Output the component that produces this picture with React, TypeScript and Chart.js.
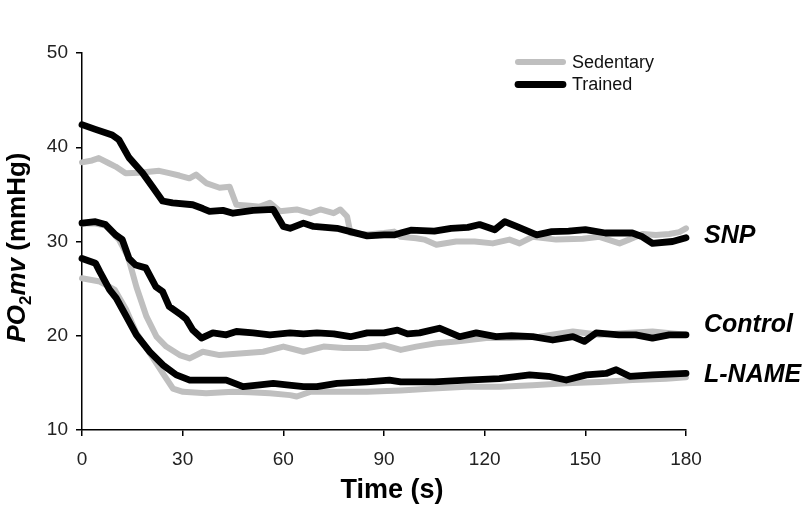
import React, { useEffect, useRef } from "react";
import { Chart, registerables } from "chart.js";
Chart.register(...registerables);

type Pt = [number, number];

const xTicks = [0, 30, 60, 90, 120, 150, 180];
const yTicks = [10, 20, 30, 40, 50];
const legendLabels = ["Sedentary", "Trained"];
const conditionLabels = ["SNP", "Control", "L-NAME"];

const snpTrained: Pt[] = [[0,42.4],[4,41.9],[9,41.3],[11,40.8],[14,38.9],[18,37.3],[21,35.8],[24,34.3],[27,34.1],[33,33.9],[36,33.5],[38,33.2],[42,33.3],[45,33.0],[51,33.3],[57,33.4],[60,31.6],[62,31.4],[66,31.95],[69,31.6],[76,31.4],[80,31.05],[85,30.6],[90,30.7],[93,30.7],[95,30.9],[98,31.2],[105,31.1],[110,31.4],[115,31.5],[118.5,31.8],[123,31.25],[126,32.1],[129.5,31.6],[135.5,30.7],[140,31.05],[145,31.1],[150,31.25],[156,30.9],[164,30.9],[167,30.5],[170,29.8],[176,30.0],[180,30.4]];
const snpSedentary: Pt[] = [[0,38.4],[3,38.6],[5,38.85],[8,38.3],[10,37.95],[13,37.25],[17,37.3],[20,37.4],[23,37.5],[26,37.25],[29,37.0],[32,36.7],[34,37.1],[37,36.2],[41,35.7],[44,35.8],[46,33.9],[50,33.8],[53,33.7],[56,34.1],[59,33.2],[64,33.4],[68,33.0],[71,33.4],[75,33.0],[77,33.4],[79,32.65],[80,30.9],[85,30.75],[90,30.9],[93,31.05],[95,30.5],[99.6,30.35],[102,30.2],[105.6,29.65],[111.5,30.0],[117,30.0],[122.4,29.8],[127.4,30.2],[130.4,29.8],[134.3,30.5],[141.3,30.2],[149.2,30.3],[154.2,30.5],[160.2,29.8],[163,30.2],[167,30.8],[171,30.7],[175,30.8],[178,31.0],[180,31.4]];
const controlTrained: Pt[] = [[0,31.95],[4,32.1],[7,31.8],[10,30.7],[12,30.2],[14,28.2],[16,27.5],[19,27.2],[22,25.2],[24,24.7],[26,23.1],[29.6,22.2],[31,21.8],[33,20.6],[35.6,19.75],[39,20.3],[43,20.1],[46,20.45],[51,20.3],[56,20.1],[62,20.3],[66,20.2],[70,20.3],[75,20.2],[80,19.9],[85,20.3],[90,20.3],[94,20.6],[97,20.2],[100.6,20.3],[106.5,20.8],[112.5,19.9],[117.5,20.3],[123.4,19.9],[128,20.0],[134.3,19.9],[140.3,19.55],[146.3,19.9],[149.7,19.4],[153.2,20.3],[160,20.1],[165,20.1],[170,19.75],[175,20.1],[180,20.1]];
const controlSedentary: Pt[] = [[0,31.9],[4,31.9],[7,31.7],[11,30.2],[13.7,28.4],[16.2,25.2],[19.2,22.05],[22.2,19.9],[25.1,18.85],[29.1,17.95],[32.1,17.6],[36,18.3],[41,17.95],[48,18.15],[54,18.3],[60,18.85],[66,18.3],[72,18.85],[78,18.7],[85,18.7],[90,19.0],[95,18.5],[99.6,18.85],[105.6,19.2],[111.5,19.4],[120.5,19.75],[127.4,19.75],[136.3,19.9],[146.3,20.45],[154.2,20.1],[162,20.3],[170,20.45],[180,20.1]];
const lnameTrained: Pt[] = [[0,28.2],[4,27.7],[5.3,26.8],[8.2,24.9],[10.2,24.0],[13.2,22.05],[16.2,20.1],[20.2,18.3],[24.1,16.9],[28.1,15.85],[32.1,15.3],[39,15.3],[43,15.3],[48,14.6],[53,14.8],[57,14.95],[61,14.8],[66,14.6],[70,14.6],[76,14.95],[85,15.1],[91.6,15.3],[95,15.1],[105,15.1],[114.5,15.3],[124.4,15.45],[133.4,15.85],[139,15.7],[144.3,15.3],[150.3,15.85],[156.2,16.0],[159.2,16.4],[163.2,15.7],[170,15.85],[180,16.0]];
const lnameSedentary: Pt[] = [[0,26.1],[5.3,25.75],[9.7,24.9],[13.2,22.75],[16.2,20.3],[20.2,18.15],[24.1,16.0],[27.1,14.4],[30.1,14.05],[37,13.9],[45,14.05],[50,14.0],[56,13.9],[62,13.7],[64,13.55],[68,14.05],[75,14.05],[85,14.05],[95,14.2],[104.6,14.4],[114.5,14.6],[124.4,14.6],[134.3,14.75],[144.3,14.95],[154.2,15.1],[164.1,15.3],[174.1,15.45],[180,15.6]];

const GREY = "#bfbfbf";
const BLACK = "#000000";
const FONT = "'Liberation Sans', Arial, Helvetica, sans-serif";

const toXY = (a: Pt[]) => a.map(([x, y]) => ({ x, y }));

const series = [
  { label: "SNP Sedentary", data: snpSedentary, color: GREY, width: 6, order: 2 },
  { label: "Control Sedentary", data: controlSedentary, color: GREY, width: 6, order: 2 },
  { label: "L-NAME Sedentary", data: lnameSedentary, color: GREY, width: 6, order: 2 },
  { label: "SNP Trained", data: snpTrained, color: BLACK, width: 6.8, order: 1 },
  { label: "Control Trained", data: controlTrained, color: BLACK, width: 6.8, order: 1 },
  { label: "L-NAME Trained", data: lnameTrained, color: BLACK, width: 6.8, order: 1 },
];

const conditionEnds: Pt[][] = [snpTrained, controlTrained, lnameTrained];
const conditionOffsets = [0.2, 1.0, -0.2];

const overlay = {
  id: "overlay",
  afterDraw(chart: any) {
    const ctx = chart.ctx as CanvasRenderingContext2D;
    const ys = chart.scales.y;
    const area = chart.chartArea;
    ctx.save();
    // legend
    const lx0 = 518, lx1 = 563;
    const legendColors = [GREY, BLACK];
    legendLabels.forEach((t, i) => {
      const y = 62 + i * 22.5;
      ctx.strokeStyle = legendColors[i];
      ctx.lineWidth = i === 0 ? 6 : 6.8;
      ctx.lineCap = "round";
      ctx.beginPath();
      ctx.moveTo(lx0, y);
      ctx.lineTo(lx1, y);
      ctx.stroke();
      ctx.fillStyle = "#111";
      ctx.font = `18px ${FONT}`;
      ctx.textBaseline = "middle";
      ctx.textAlign = "left";
      ctx.fillText(t, 572, y + 1);
    });
    // condition labels
    ctx.font = `italic bold 25px ${FONT}`;
    ctx.fillStyle = "#000";
    ctx.textBaseline = "middle";
    conditionLabels.forEach((t, i) => {
      const d = conditionEnds[i];
      const yv = d[d.length - 1][1] + conditionOffsets[i];
      ctx.fillText(t, area.right + 18, ys.getPixelForValue(yv));
    });
    // x title
    ctx.font = `bold 27px ${FONT}`;
    ctx.textAlign = "center";
    ctx.textBaseline = "alphabetic";
    ctx.fillText("Time (s)", (area.left + area.right) / 2 + 8, 498);
    // y title
    ctx.translate(25, (area.top + area.bottom) / 2 + 6);
    ctx.rotate(-Math.PI / 2);
    const parts: { t: string; f: string; dy: number }[] = [
      { t: "PO", f: `italic bold 26px ${FONT}`, dy: 0 },
      { t: "2", f: `bold 17px ${FONT}`, dy: 6 },
      { t: "mv", f: `italic bold 26px ${FONT}`, dy: 0 },
      { t: " (mmHg)", f: `bold 26px ${FONT}`, dy: 0 },
    ];
    let total = 0;
    parts.forEach((p) => {
      ctx.font = p.f;
      total += ctx.measureText(p.t).width;
    });
    let x = -total / 2;
    ctx.textAlign = "left";
    parts.forEach((p) => {
      ctx.font = p.f;
      ctx.fillText(p.t, x, p.dy);
      x += ctx.measureText(p.t).width;
    });
    ctx.restore();
  },
};

export default function App() {
  const ref = useRef<HTMLCanvasElement>(null);
  useEffect(() => {
    if (!ref.current) return;
    const chart = new Chart(ref.current, {
      type: "line",
      data: {
        datasets: series.map((s) => ({
          label: s.label,
          data: toXY(s.data),
          borderColor: s.color,
          backgroundColor: s.color,
          borderWidth: s.width,
          pointRadius: 0,
          tension: 0,
          borderJoinStyle: "round",
          borderCapStyle: "round",
          fill: false,
          order: s.order,
          clip: false,
        })),
      },
      options: {
        responsive: false,
        animation: false,
        layout: { padding: { top: 53, right: 123, left: 0, bottom: 0 } },
        plugins: { legend: { display: false }, tooltip: { enabled: false } },
        scales: {
          x: {
            type: "linear",
            min: 0,
            max: 180,
            afterBuildTicks: (sc: any) => { sc.ticks = xTicks.map((v) => ({ value: v })); },
            afterFit: (sc: any) => { sc.height = 77; },
            ticks: { color: "#222", font: { family: FONT, size: 19 }, padding: 12, maxRotation: 0 },
            grid: { display: true, drawOnChartArea: false, drawTicks: true, tickLength: 6, color: "#000", lineWidth: 1.5 },
            border: { display: true, color: "#000", width: 1.5 },
          },
          y: {
            type: "linear",
            min: 10,
            max: 50,
            afterBuildTicks: (sc: any) => { sc.ticks = yTicks.map((v) => ({ value: v })); },
            afterFit: (sc: any) => { sc.width = 82; },
            ticks: { color: "#222", font: { family: FONT, size: 19 }, padding: 8 },
            grid: { display: true, drawOnChartArea: false, drawTicks: true, tickLength: 6, color: "#000", lineWidth: 1.5 },
            border: { display: true, color: "#000", width: 1.5 },
          },
        },
      },
      plugins: [overlay],
    } as any);
    return () => chart.destroy();
  }, []);
  return (
    <div style={{ position: "fixed", left: 0, top: 0, width: 809, height: 507, background: "#fff" }}>
      <canvas ref={ref} width={809} height={507} style={{ width: 809, height: 507, display: "block" }} />
    </div>
  );
}
